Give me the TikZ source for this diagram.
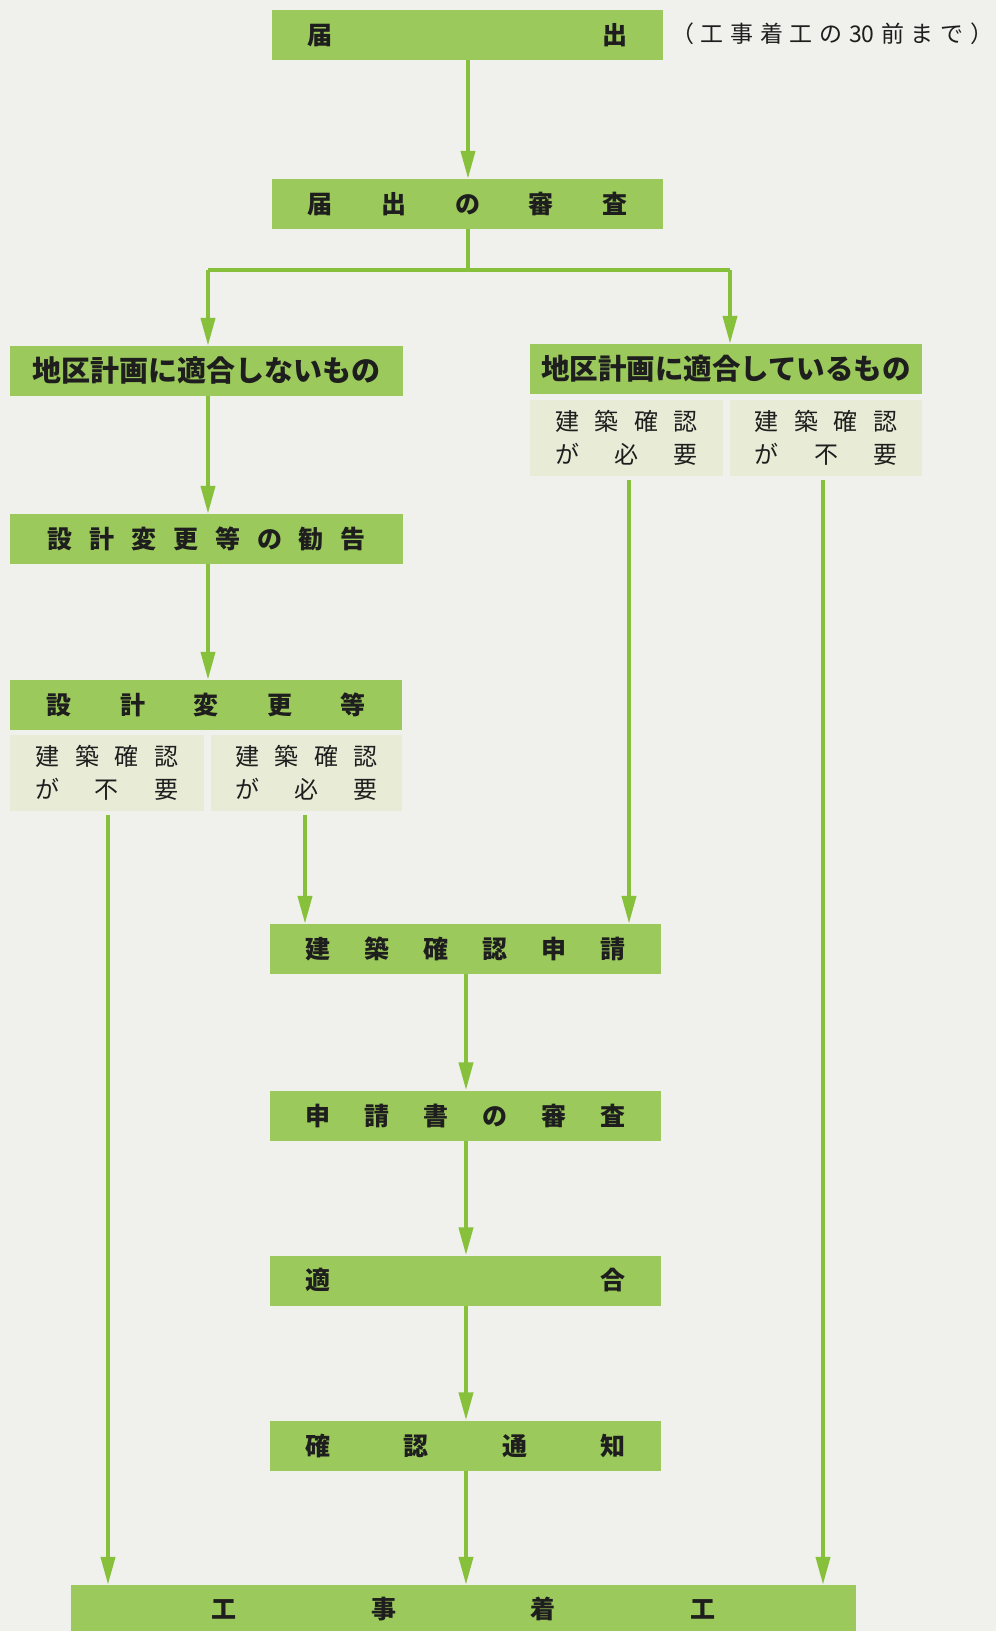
\documentclass[tikz,border=0pt]{standalone}
\usepackage{fontspec}
\newfontfamily\jp{Noto Sans CJK JP}
\usetikzlibrary{arrows.meta}
\definecolor{bg}{RGB}{240,240,236}
\definecolor{boxgreen}{RGB}{156,201,92}
\definecolor{subgreen}{RGB}{232,236,214}
\definecolor{arrgreen}{RGB}{135,192,58}
\definecolor{ink}{RGB}{30,30,30}
\newcommand\spr[2]{\makebox[#1pt]{#2}}
\tikzset{
  mainbox/.style={fill=boxgreen, draw=none, inner sep=0pt, minimum height=50pt, text=ink, font=\jp\bfseries\fontsize{25}{28}\selectfont},
  subbox/.style={fill=subgreen, draw=none, inner sep=0pt, minimum height=76pt, text=ink, align=center, font=\jp\fontsize{24}{33}\selectfont},
  arr/.style={draw=arrgreen, line width=4pt, -{Triangle[width=14pt,length=28pt]}},
  ln/.style={draw=arrgreen, line width=4pt},
  note/.style={text=ink, inner sep=0pt, font=\jp\fontsize{23}{27}\selectfont}
}
\begin{document}
\begin{tikzpicture}[x=1pt,y=-1pt]
\fill[bg] (0,0) rectangle (996,1631);
\useasboundingbox (0,0) rectangle (996,1631);

\node[mainbox, minimum width=391pt] (todoke) at (467.5,35) {\spr{320}{届\hfill 出}};
\node[note, anchor=west] (noteA) at (671,34) {\spr{322}{（\hfill 工\hfill 事\hfill 着\hfill 工\hfill の\hfill 30\hfill 前\hfill ま\hfill で\hfill ）}};
\node[mainbox, minimum width=391pt] (shinsa) at (467.5,204) {\spr{320}{届\hfill 出\hfill の\hfill 審\hfill 査}};

\node[mainbox, minimum width=393pt, font=\jp\bfseries\fontsize{29}{31}\selectfont] (notfit) at (206.5,371) {地区計画に適合しないもの};
\node[mainbox, minimum width=392pt, font=\jp\bfseries\fontsize{28.5}{31}\selectfont] (fit) at (726,369) {地区計画に適合しているもの};
\node[subbox, minimum width=193pt] (fitA) at (626.5,438) {\spr{143}{建\hfill 築\hfill 確\hfill 認}\\\spr{143}{が\hfill 必\hfill 要}};
\node[subbox, minimum width=192pt] (fitB) at (826,438) {\spr{143}{建\hfill 築\hfill 確\hfill 認}\\\spr{143}{が\hfill 不\hfill 要}};

\node[mainbox, minimum width=393pt] (kankoku) at (206.5,539) {\spr{319}{設\hfill 計\hfill 変\hfill 更\hfill 等\hfill の\hfill 勧\hfill 告}};
\node[mainbox, minimum width=392pt] (henko) at (206,705) {\spr{319}{設\hfill 計\hfill 変\hfill 更\hfill 等}};
\node[subbox, minimum width=194pt] (henA) at (107,772.5) {\spr{143}{建\hfill 築\hfill 確\hfill 認}\\\spr{143}{が\hfill 不\hfill 要}};
\node[subbox, minimum width=191pt] (henB) at (306.5,772.5) {\spr{143}{建\hfill 築\hfill 確\hfill 認}\\\spr{143}{が\hfill 必\hfill 要}};

\node[mainbox, minimum width=391pt] (shinsei) at (465.5,949) {\spr{320}{建\hfill 築\hfill 確\hfill 認\hfill 申\hfill 請}};
\node[mainbox, minimum width=391pt] (shinsasho) at (465.5,1115.5) {\spr{320}{申\hfill 請\hfill 書\hfill の\hfill 審\hfill 査}};
\node[mainbox, minimum width=391pt] (tekigo) at (465.5,1280.5) {\spr{320}{適\hfill 合}};
\node[mainbox, minimum width=391pt] (tsuchi) at (465.5,1445.5) {\spr{320}{確\hfill 認\hfill 通\hfill 知}};
\node[mainbox, minimum width=785pt, minimum height=48pt] (chakko) at (463.5,1609) {\spr{504}{工\hfill 事\hfill 着\hfill 工}};

% connectors
\draw[arr] (todoke.south -| 468,0) -- (shinsa.north -| 468,0);
\coordinate (split) at (468,270);
\coordinate (splitL) at (208,270);
\coordinate (splitR) at (730,270);
\draw[ln] (shinsa.south -| split) -- (split);
\draw[ln] (splitL) -- (splitR);
\draw[arr] (splitL) -- (notfit.north -| splitL);
\draw[arr] (splitR) -- (fit.north -| splitR);
\draw[arr] (notfit.south -| 208,0) -- (kankoku.north -| 208,0);
\draw[arr] (kankoku.south -| 208,0) -- (henko.north -| 208,0);
\draw[arr] ([yshift=-4pt]henA.south -| 108,0) -- (chakko.north -| 108,0);
\draw[arr] ([yshift=-4pt]henB.south -| 305,0) -- (shinsei.north -| 305,0);
\draw[arr] ([yshift=-4pt]fitA.south -| 629,0) -- (shinsei.north -| 629,0);
\draw[arr] ([yshift=-4pt]fitB.south -| 823,0) -- (chakko.north -| 823,0);
\draw[arr] (shinsei.south -| 466,0) -- (shinsasho.north -| 466,0);
\draw[arr] (shinsasho.south -| 466,0) -- (tekigo.north -| 466,0);
\draw[arr] (tekigo.south -| 466,0) -- (tsuchi.north -| 466,0);
\draw[arr] (tsuchi.south -| 466,0) -- (chakko.north -| 466,0);
\end{tikzpicture}
\end{document}
